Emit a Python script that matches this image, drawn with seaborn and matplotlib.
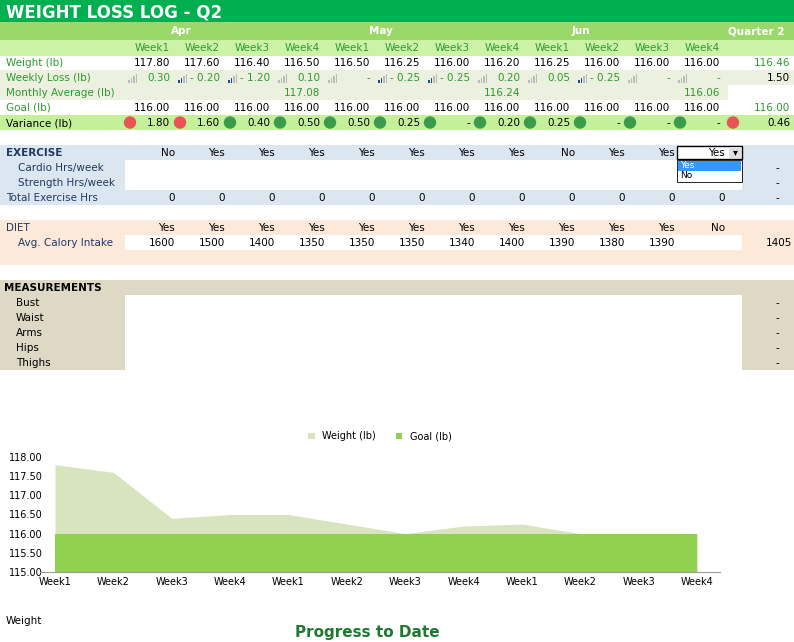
import numpy as np
import pandas as pd
import matplotlib
matplotlib.use('Agg')
import matplotlib.pyplot as plt
from matplotlib.patches import Rectangle
import seaborn as sns

weeks = ['Week1', 'Week2', 'Week3', 'Week4'] * 3
months = ['Apr', 'May', 'Jun']
weight = [117.80, 117.60, 116.40, 116.50, 116.50, 116.25, 116.00, 116.20, 116.25, 116.00, 116.00, 116.00]
weekly_loss = ['0.30', '- 0.20', '- 1.20', '0.10', '-', '- 0.25', '- 0.25', '0.20', '0.05', '- 0.25', '-', '-']
monthly_avg = [117.08, 116.24, 116.06]
goal = [116.00] * 12
variance = ['1.80', '1.60', '0.40', '0.50', '0.50', '0.25', '-', '0.20', '0.25', '-', '-', '-']
var_red = [True, True] + [False] * 10
exercise = ['No', 'Yes', 'Yes', 'Yes', 'Yes', 'Yes', 'Yes', 'Yes', 'No', 'Yes', 'Yes', 'Yes']
total_ex = [0] * 12
diet = ['Yes'] * 11 + ['No']
calories = [1600, 1500, 1400, 1350, 1350, 1350, 1340, 1400, 1390, 1380, 1390, None]
q2_weight, q2_loss, q2_goal, q2_var, q2_cal = '116.46', '1.50', '116.00', '0.46', '1405'
measurements = ['Bust', 'Waist', 'Arms', 'Hips', 'Thighs']

fig = plt.figure(figsize=(7.94, 6.42), dpi=100)
ax = fig.add_axes([0, 0, 1, 1])
ax.set_xlim(0, 794)
ax.set_ylim(642, 0)
ax.axis('off')

def box(x0, y0, x1, y1, c):
    ax.add_patch(Rectangle((x0, y0), x1 - x0, y1 - y0, color=c, lw=0))

def txt(x, y, s, ha='right', c='black', size=7.5, **kw):
    ax.text(x, y, s, ha=ha, va='center', color=c, size=size, **kw)

dark = '#00b050'
grn_txt = '#2e9a2e'
colx = [170 + 50 * i for i in range(12)]
cx = [152 + 50 * i for i in range(12)]

# header
box(0, 0, 794, 22, dark)
txt(6, 12, 'WEIGHT LOSS LOG - Q2', ha='left', c='white', size=12, fontweight='bold')
box(0, 22, 794, 40, '#9bd86a')
for i, m in enumerate(months):
    txt(cx[4 * i] + 29, 31, m, ha='center', c='white', fontweight='bold')
txt(785, 31, 'Quarter 2', c='white', fontweight='bold')
box(0, 40, 794, 56, '#ccf2a8')
for i, w in enumerate(weeks):
    txt(cx[i], 48, w, ha='center', c=grn_txt)

# weight block rows
box(0, 70, 794, 100, '#ebf1de')
box(728, 85, 794, 100, 'white')
box(0, 115, 794, 130, '#c4f09a')
txt(6, 63, 'Weight (lb)', ha='left', c=grn_txt)
txt(6, 78, 'Weekly Loss (lb)', ha='left', c=grn_txt)
txt(6, 93, 'Monthly Average (lb)', ha='left', c=grn_txt)
txt(6, 108, 'Goal (lb)', ha='left', c=grn_txt)
txt(6, 123, 'Variance (lb)', ha='left')
for i in range(12):
    txt(colx[i], 63, f'{weight[i]:.2f}')
    txt(colx[i], 78, weekly_loss[i], c=grn_txt)
    txt(colx[i], 108, f'{goal[i]:.2f}')
    txt(colx[i], 123, variance[i])
    for k in range(4):
        h = 3 + 2 * k
        fc = '#1f4e99' if (k < 2 and '-' in weekly_loss[i] and weekly_loss[i] != '-') else '#bbbbbb'
        box(colx[i] - 42 + 2.5 * k, 83 - h, colx[i] - 40.5 + 2.5 * k, 83, fc)
    ax.add_patch(plt.Circle((colx[i] - 40, 122.5), 5.5, color='#e85555' if var_red[i] else '#3a9c4a'))
for j, v in enumerate(monthly_avg):
    txt(colx[4 * j + 3], 93, f'{v:.2f}', c=grn_txt)
txt(790, 63, q2_weight, c=grn_txt)
txt(790, 78, q2_loss)
txt(790, 108, q2_goal, c=grn_txt)
txt(790, 123, q2_var)
ax.add_patch(plt.Circle((733, 122.5), 5.5, color='#e85555'))

# exercise
box(0, 145, 794, 205, '#dce6f1')
box(125, 160, 742, 190, 'white')
txt(6, 153, 'EXERCISE', ha='left', c='#1f3864', fontweight='bold')
txt(18, 168, 'Cardio Hrs/week', ha='left', c='#1f3864')
txt(18, 183, 'Strength Hrs/week', ha='left', c='#1f3864')
txt(6, 198, 'Total Exercise Hrs', ha='left', c='#1f3864')
for i in range(12):
    txt(colx[i] + 5, 153, exercise[i])
    txt(colx[i] + 5, 198, str(total_ex[i]))
for y in (168, 183, 198):
    txt(779, y, '-')
box(677, 146, 742, 159, 'white')
ax.add_patch(Rectangle((677, 146), 65, 13, fill=False, ec='black', lw=1))
box(729, 147, 741, 158, '#e0e0e0')
txt(735, 152, '▾', ha='center', size=7)
box(677, 160, 742, 182, 'white')
ax.add_patch(Rectangle((677, 160), 65, 22, fill=False, ec='black', lw=0.6))
box(678, 161, 741, 171, '#3399ff')
txt(680, 166, 'Yes', ha='left', c='white', size=6.5)
txt(680, 176, 'No', ha='left', size=6.5)

# diet
box(0, 220, 794, 265, '#fde9d9')
box(125, 235, 742, 250, 'white')
txt(6, 228, 'DIET', ha='left', c='#1f3864')
txt(18, 243, 'Avg. Calory Intake', ha='left', c='#1f3864')
for i in range(12):
    txt(colx[i] + 5, 228, diet[i])
    if calories[i] is not None:
        txt(colx[i] + 5, 243, str(calories[i]))
txt(792, 243, q2_cal)

# measurements
box(0, 280, 794, 370, '#ddd9c4')
box(125, 295, 742, 370, 'white')
txt(4, 288, 'MEASUREMENTS', ha='left', fontweight='bold')
for k, m in enumerate(measurements):
    txt(16, 303 + 15 * k, m, ha='left')
    txt(779, 303 + 15 * k, '-')

txt(6, 621, 'Weight', ha='left')
txt(367, 632, 'Progress to Date', ha='center', c='#1e7a2e', size=11, fontweight='bold')

# chart
cax = fig.add_axes([40 / 794, (642 - 572) / 642, 680 / 794, 115 / 642])
df = pd.DataFrame({'pos': np.arange(12), 'weight': weight, 'goal': goal})
sns.lineplot(data=df, x='pos', y='weight', ax=cax, color='#d7e4bd', lw=0)
cax.fill_between(df['pos'], 115, df['weight'], color='#d7e4bd', label='Weight (lb)', lw=0)
cax.fill_between(df['pos'], 115, df['goal'], color='#92d050', label='Goal (lb)', lw=0)
cax.set_xlim(-0.257, 11.39)
cax.set_ylim(115, 118)
cax.set_yticks(np.arange(115, 118.01, 0.5))
cax.set_yticklabels([f'{v:.2f}' for v in np.arange(115, 118.01, 0.5)], size=7)
cax.set_xticks(range(12))
cax.set_xticklabels(weeks, size=7)
cax.tick_params(length=0)
cax.tick_params(axis='y', pad=-2)
cax.set_xlabel('')
cax.set_ylabel('')
for s in ('top', 'right', 'left'):
    cax.spines[s].set_visible(False)
cax.spines['bottom'].set_color('#999999')
cax.legend(loc='lower center', bbox_to_anchor=(0.5, 1.06), ncol=2, frameon=False, fontsize=7,
           handlelength=0.7, handleheight=0.7)

fig.savefig('out.png', dpi=100)
